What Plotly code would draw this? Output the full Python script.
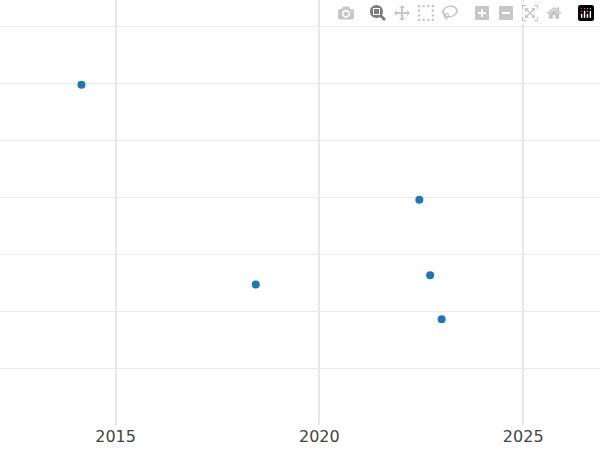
import plotly.graph_objects as go

dates = ["2014-03-01", "2018-06-10", "2022-06-15", "2022-09-20", "2023-01-01"]
values = [5.98, 2.47, 3.96, 2.63, 1.86]

fig = go.Figure(go.Scatter(x=dates, y=values, mode="markers",
                           marker=dict(color="#1f77b4", size=8)))
fig.update_layout(
    width=600, height=450, plot_bgcolor="white", paper_bgcolor="white",
    margin=dict(l=0, r=0, t=0, b=25), showlegend=False,
    font=dict(family="DejaVu Sans", size=16, color="#444"),
)
fig.update_xaxes(range=["2012-03-01", "2026-11-20"], dtick="M60", tick0="2015-01-01",
                 tickformat="%Y", showgrid=True, gridcolor="#e8e8e8", gridwidth=1.5,
                 zeroline=False, showline=False, ticks="")
fig.update_yaxes(range=[0, 7.47], dtick=1, showticklabels=False, showgrid=True,
                 gridcolor="#ebebeb", gridwidth=1, zeroline=False, showline=False)
fig.write_html("out.html", post_script="document.body.style.margin='0';")
